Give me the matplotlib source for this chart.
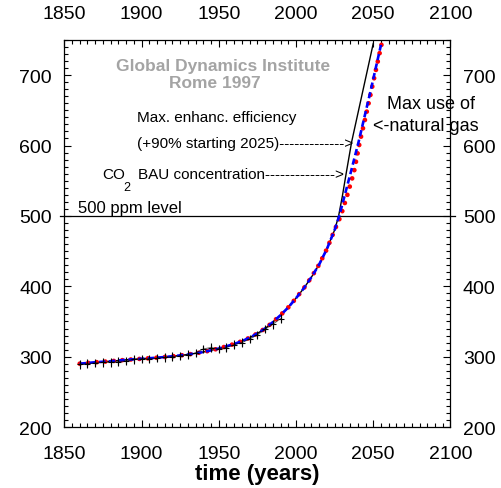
"""CO2 concentration scenarios, Global Dynamics Institute style chart."""

import matplotlib
matplotlib.use("Agg")
import matplotlib.pyplot as plt
from matplotlib.ticker import MultipleLocator

# model history shared by all scenarios (ppm)
hist_years = [1860, 1870, 1880, 1890, 1900, 1910, 1920, 1930, 1940, 1950,
              1960, 1965, 1970, 1975, 1980, 1985, 1990, 1995, 2000, 2005,
              2010, 2015, 2020, 2025]
hist_ppm = [290, 292, 293.5, 295.5, 297, 298.5, 300.5, 303, 306.5, 311.5,
            318, 322, 327, 333, 340, 349, 359, 370, 383, 397,
            413, 431, 453, 480]

# business as usual after 2025
bau_years = [2025, 2027.5, 2030, 2032.6, 2036, 2043, 2050]
bau_ppm = [480, 499, 528, 562, 605, 675, 745]

# max enhanced efficiency (+90% starting 2025)
eff_years = [2025, 2028, 2035, 2040.5, 2048, 2055]
eff_ppm = [480, 500, 558, 605, 675, 743]

# max use of natural gas
gas_years = [2025, 2029, 2033, 2037.5, 2041.3, 2045, 2050, 2055.5]
gas_ppm = [479, 500, 528, 562, 605, 640, 690, 745]

# observed concentrations with error bars
obs_years = [1860, 1865, 1870, 1875, 1880, 1885, 1890, 1895, 1900, 1905,
             1910, 1915, 1920, 1925, 1930, 1935, 1940, 1945, 1950, 1955,
             1960, 1965, 1970, 1975, 1980, 1985, 1990]
obs_ppm = [289, 290, 291, 292, 292, 293, 294, 296, 297, 297,
           298, 299, 300, 301, 303, 305, 311, 313, 311, 313,
           317, 320, 325, 331, 339, 346, 354]
obs_err = 6

LEVEL = 500

plt.rcParams["font.family"] = ["Liberation Sans", "DejaVu Sans"]

fig = plt.figure(figsize=(5.02, 4.89), dpi=100)
ax = fig.add_axes([0.128, 0.1247, 0.7694, 0.7915])

ax.plot(hist_years + bau_years[1:], hist_ppm + bau_ppm[1:], color="black", lw=1.0, zorder=1)
ax.plot(hist_years + gas_years[1:], hist_ppm + gas_ppm[1:], color="red", lw=3.4,
        dashes=(0.01, 1.8), dash_capstyle="round", zorder=2)
ax.plot(hist_years + eff_years[1:], hist_ppm + eff_ppm[1:], color="blue", lw=1.9,
        dashes=(2.4, 1.3), zorder=3)
ax.errorbar(obs_years, obs_ppm, yerr=obs_err, fmt="+", color="black", ms=5,
            mew=0.8, elinewidth=0.8, capsize=0, zorder=4)
ax.plot(obs_years, obs_ppm, color="black", lw=0.7, zorder=4, alpha=0.6)

ax.plot([1847.5, 2103], [LEVEL, LEVEL], color="black", lw=0.9, clip_on=False, zorder=1)

ax.set_xlim(1850, 2100)
ax.set_ylim(200, 750)
ax.xaxis.set_major_locator(MultipleLocator(50))
ax.xaxis.set_minor_locator(MultipleLocator(5))
ax.yaxis.set_major_locator(MultipleLocator(100))
ax.yaxis.set_minor_locator(MultipleLocator(10))
ax.tick_params(which="both", direction="in", top=True, right=True,
               labeltop=True, labelright=True, width=0.8, labelsize=14)
ax.tick_params(which="major", length=5)
ax.tick_params(which="minor", length=2.6)
ax.tick_params(axis="x", pad=13)
ax.tick_params(axis="y", pad=9)
for s in ax.spines.values():
    s.set_linewidth(0.9)

ax.set_xlabel("time (years)", fontsize=16, fontweight="bold", labelpad=1)

# annotations
ax.text(0.411, 0.933, "Global Dynamics Institute", transform=ax.transAxes,
        ha="center", va="center", fontsize=12.5, fontweight="bold", color="#a4a4a4")
ax.text(0.390, 0.889, "Rome 1997", transform=ax.transAxes,
        ha="center", va="center", fontsize=12.5, fontweight="bold", color="#a4a4a4")

ax.text(0.189, 0.80, "Max. enhanc. efficiency", transform=ax.transAxes,
        ha="left", va="center", fontsize=11)
ax.text(0.189, 0.735, "(+90% starting 2025)" + "-" * 13 + ">", transform=ax.transAxes,
        ha="left", va="center", fontsize=11)
ax.text(0.099, 0.655, "CO", transform=ax.transAxes,
        ha="left", va="center", fontsize=11)
ax.text(0.153, 0.620, "2", transform=ax.transAxes,
        ha="left", va="center", fontsize=9)
ax.text(0.190, 0.655, "BAU concentration" + "-" * 14 + ">", transform=ax.transAxes,
        ha="left", va="center", fontsize=11)
ax.text(0.036, 0.567, "500 ppm level", transform=ax.transAxes,
        ha="left", va="center", fontsize=12)

ax.text(0.835, 0.835, "Max use of", transform=ax.transAxes,
        ha="left", va="center", fontsize=13, clip_on=False)
ax.text(0.799, 0.779, "<-natural gas", transform=ax.transAxes,
        ha="left", va="center", fontsize=13, clip_on=False)

fig.savefig("out.png", dpi=100)
